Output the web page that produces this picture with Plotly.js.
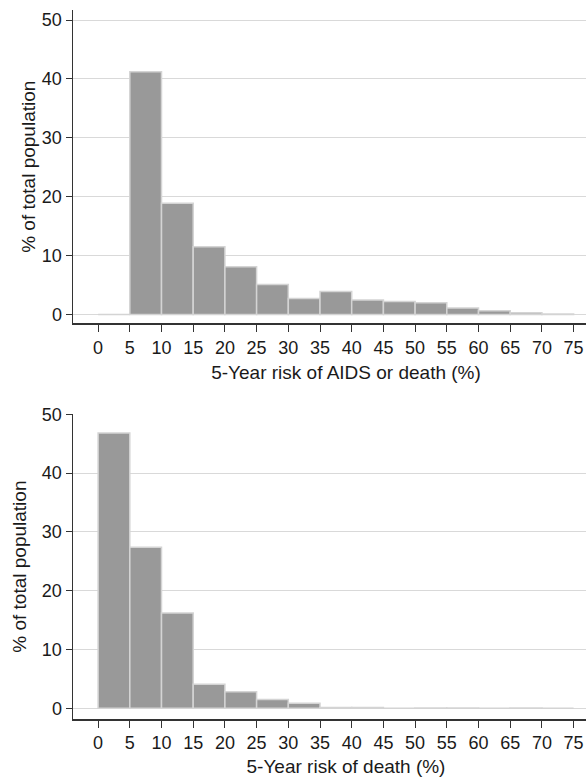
<!DOCTYPE html>
<html>
<head>
<meta charset="utf-8">
<script src="https://cdn.plot.ly/plotly-3.0.1.min.js"></script>
<style>html,body{margin:0;padding:0;background:#fff;overflow:hidden;}#chart{width:619px;height:781px;}</style>
</head>
<body>
<div id="chart"></div>
<script>
// Bin midpoints (5-unit bins from 0 to 75)
const binCenters = [2.5, 7.5, 12.5, 17.5, 22.5, 27.5, 32.5, 37.5, 42.5, 47.5, 52.5, 57.5, 62.5, 67.5, 72.5];
// Top panel: 5-Year risk of AIDS or death (%)
const aidsOrDeath = [0, 41.2, 18.9, 11.5, 8.1, 5.1, 2.7, 3.9, 2.45, 2.2, 2.0, 1.1, 0.65, 0.3, 0.1];
// Bottom panel: 5-Year risk of death (%)
const deathOnly = [46.8, 27.4, 16.2, 4.1, 2.8, 1.5, 0.85, 0.12, 0.12, 0, 0.06, 0.06, 0, 0.06, 0];
const xTicks = [0, 5, 10, 15, 20, 25, 30, 35, 40, 45, 50, 55, 60, 65, 70, 75];
const yTicks = [0, 10, 20, 30, 40, 50];

const barStyle = {color: '#999999', line: {color: '#d4d4d4', width: 1.5}};
const traces = [
  {type: 'bar', x: binCenters, y: aidsOrDeath, width: 5, marker: barStyle, xaxis: 'x', yaxis: 'y', hoverinfo: 'x+y'},
  {type: 'bar', x: binCenters, y: deathOnly, width: 5, marker: barStyle, xaxis: 'x2', yaxis: 'y2', hoverinfo: 'x+y'}
];

const font = {family: 'Liberation Sans, Arial, sans-serif', size: 18, color: '#1a1a1a'};
const titleFont = {family: 'Liberation Sans, Arial, sans-serif', size: 19, color: '#1a1a1a'};
const xBase = {
  range: [-3.96, 82.16], tickvals: xTicks, ticks: 'outside', ticklen: 7, tickcolor: '#333',
  showline: true, linecolor: '#333', linewidth: 1.5, showgrid: false, zeroline: false,
  tickfont: font, fixedrange: true
};
const yBase = {
  tickvals: yTicks, ticks: 'outside', ticklen: 6, tickcolor: '#333',
  showline: true, linecolor: '#333', linewidth: 1.5, showgrid: true, gridcolor: '#d9d9d9', gridwidth: 1,
  zeroline: false, tickfont: font, fixedrange: true
};

const layout = {
  width: 619, height: 781,
  margin: {l: 73, r: 0, t: 0, b: 0},
  paper_bgcolor: '#fff', plot_bgcolor: '#fff',
  showlegend: false, bargap: 0, font: font,
  xaxis: Object.assign({}, xBase, {anchor: 'y', title: {text: '5-Year risk of AIDS or death (%)', font: titleFont, standoff: 9}}),
  yaxis: Object.assign({}, yBase, {domain: [0.5858, 0.9872], range: [-1.53, 51.7], anchor: 'x', title: {text: '% of total population', font: titleFont, standoff: 1}}),
  xaxis2: Object.assign({}, xBase, {anchor: 'y2', title: {text: '5-Year risk of death (%)', font: titleFont, standoff: 7}}),
  yaxis2: Object.assign({}, yBase, {domain: [0.0790, 0.4699], range: [-1.87, 50.05], anchor: 'x2', title: {text: '% of total population', font: titleFont, standoff: 10}})
};

Plotly.newPlot('chart', traces, layout, {displayModeBar: false, staticPlot: true});
</script>
</body>
</html>
